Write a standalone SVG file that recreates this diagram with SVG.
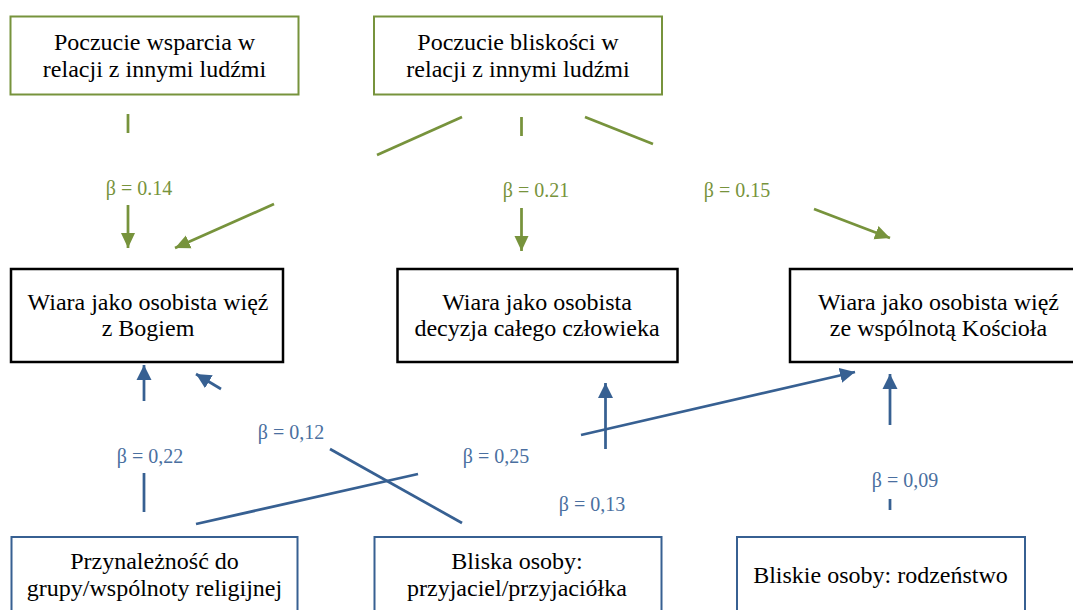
<svg xmlns="http://www.w3.org/2000/svg" width="1073" height="610" viewBox="0 0 1073 610">
<style>
text{font-family:"Liberation Serif","Times New Roman",serif;text-anchor:middle}
.t{font-size:24px;fill:#000}
.lbl{font-size:20px}
.g{fill:#77933C}
.b{fill:#4A6FA0}
.bg{fill:#fff;stroke:#77933C;stroke-width:2}
.bk{fill:#fff;stroke:#000;stroke-width:2.5}
.bb{fill:#fff;stroke:#376092;stroke-width:2}
.lg{stroke:#77933C;stroke-width:2.75;fill:none}
.lb{stroke:#376092;stroke-width:2.75;fill:none}
</style>
<defs>
<marker id="ag" markerUnits="userSpaceOnUse" markerWidth="16" markerHeight="16" viewBox="0 0 16 16" refX="15" refY="8" orient="auto"><path d="M0,1 L15,8 L0,15 z" fill="#77933C"/></marker>
<marker id="ab" markerUnits="userSpaceOnUse" markerWidth="16" markerHeight="16" viewBox="0 0 16 16" refX="15" refY="8" orient="auto"><path d="M0,0.5 L15,8 L0,15.5 z" fill="#376092"/></marker>
</defs>
<g id="connectors">
<line class="lg" x1="128" y1="114" x2="128" y2="133"/>
<line class="lg" x1="128" y1="205" x2="128" y2="248" marker-end="url(#ag)"/>
<line class="lg" x1="462" y1="117" x2="377" y2="155"/>
<line class="lg" x1="274" y1="204" x2="175" y2="248" marker-end="url(#ag)"/>
<line class="lg" x1="521.5" y1="117" x2="521.5" y2="136"/>
<line class="lg" x1="521.5" y1="208" x2="521.5" y2="251" marker-end="url(#ag)"/>
<line class="lg" x1="585" y1="117" x2="653" y2="144"/>
<line class="lg" x1="814" y1="209" x2="890" y2="238" marker-end="url(#ag)"/>
<text class="lbl g" x="139" y="195">β = 0.14</text>
<text class="lbl g" x="536" y="197">β = 0.21</text>
<text class="lbl g" x="737" y="197">β = 0.15</text>
<line class="lb" x1="144" y1="512" x2="144" y2="473"/>
<line class="lb" x1="144" y1="401" x2="144" y2="365" marker-end="url(#ab)"/>
<line class="lb" x1="462" y1="523" x2="330" y2="449"/>
<line class="lb" x1="221" y1="389" x2="196" y2="374" marker-end="url(#ab)"/>
<line class="lb" x1="196" y1="524" x2="418" y2="474"/>
<line class="lb" x1="581" y1="435" x2="855" y2="372" marker-end="url(#ab)"/>
<line class="lb" x1="605.5" y1="449" x2="605.5" y2="383" marker-end="url(#ab)"/>
<line class="lb" x1="890" y1="510" x2="890" y2="499"/>
<line class="lb" x1="890" y1="425" x2="890" y2="374" marker-end="url(#ab)"/>
<text class="lbl b" x="150" y="463">β = 0,22</text>
<text class="lbl b" x="291" y="439">β = 0,12</text>
<text class="lbl b" x="496" y="463">β = 0,25</text>
<text class="lbl b" x="592" y="511">β = 0,13</text>
<text class="lbl b" x="905" y="487">β = 0,09</text>
</g>
<g id="n1"><rect class="bg" x="10.5" y="16.5" width="288" height="78"/><text class="t" x="154.5" y="50">Poczucie wsparcia w</text><text class="t" x="154.5" y="77">relacji z innymi ludźmi</text></g>
<g id="n2"><rect class="bg" x="374" y="16.5" width="288" height="78"/><text class="t" x="518" y="50">Poczucie bliskości w</text><text class="t" x="518" y="77">relacji z innymi ludźmi</text></g>
<g id="n3"><rect class="bk" x="11" y="269" width="272" height="93"/><text class="t" x="148" y="310">Wiara jako osobista więź</text><text class="t" x="148" y="336">z Bogiem</text></g>
<g id="n4"><rect class="bk" x="397.5" y="269" width="280" height="93"/><text class="t" x="537" y="310">Wiara jako osobista</text><text class="t" x="537" y="336">decyzja całego człowieka</text></g>
<g id="n5"><rect class="bk" x="790" y="269" width="297" height="93"/><text class="t" x="938.5" y="310">Wiara jako osobista więź</text><text class="t" x="938.5" y="336">ze wspólnotą Kościoła</text></g>
<g id="n6"><rect class="bb" x="11.5" y="537" width="286" height="80"/><text class="t" x="154.5" y="569">Przynależność do</text><text class="t" x="154.5" y="596">grupy/wspólnoty religijnej</text></g>
<g id="n7"><rect class="bb" x="374.5" y="537" width="287" height="80"/><text class="t" x="517" y="569">Bliska osoby:</text><text class="t" x="517" y="596">przyjaciel/przyjaciółka</text></g>
<g id="n8"><rect class="bb" x="737" y="537" width="288" height="80"/><text class="t" x="880.5" y="583">Bliskie osoby: rodzeństwo</text></g>
</svg>
